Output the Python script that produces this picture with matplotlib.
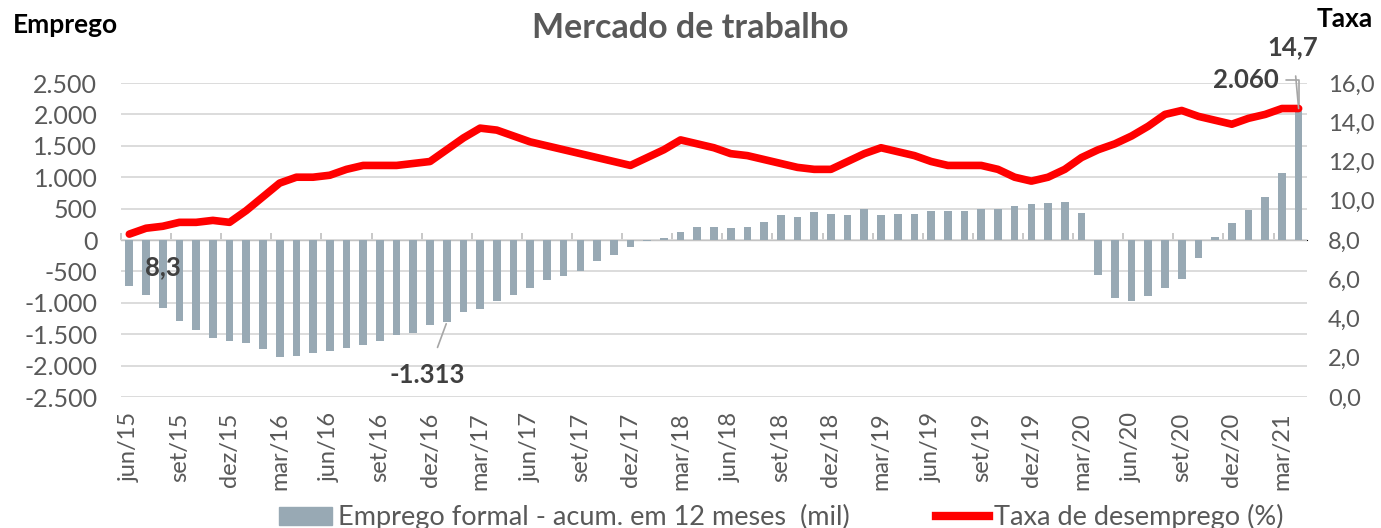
import numpy as np
import matplotlib.pyplot as plt
from matplotlib.patches import Patch
from matplotlib.lines import Line2D

plt.rcParams['font.family'] = ['Lato', 'DejaVu Sans']

# emprego formal acumulado em 12 meses (mil), jun/15 .. abr/21
emprego = [-727, -876, -1077, -1284, -1433, -1560, -1614, -1640, -1741, -1868,
           -1842, -1794, -1768, -1714, -1667, -1614, -1513, -1486, -1359,
           -1313, -1152, -1099, -977, -870, -770, -642, -568, -488, -340,
           -239, -117, -8, 32, 133, 212, 212, 186, 212,
           287, 393, 366, 441, 414, 393, 494, 393, 414, 414, 467, 467, 467,
           494, 494, 547, 568, 590,
           610, 425, -563, -918, -966, -892, -764, -616, -281, 48, 276, 478,
           679, 1062, 2060]

# taxa de desemprego (%)
taxa = [8.3, 8.6, 8.7, 8.9, 8.9, 9.0, 8.9, 9.5, 10.2, 10.9, 11.2, 11.2, 11.3,
        11.6, 11.8, 11.8, 11.8, 11.9, 12.0,
        12.6, 13.2, 13.7, 13.6, 13.3, 13.0, 12.8, 12.6, 12.4, 12.2, 12.0,
        11.8, 12.2, 12.6, 13.1, 12.9, 12.7, 12.4, 12.3,
        12.1, 11.9, 11.7, 11.6, 11.6, 12.0, 12.4, 12.7, 12.5, 12.3, 12.0,
        11.8, 11.8, 11.8, 11.6, 11.2, 11.0, 11.2,
        11.6, 12.2, 12.6, 12.9, 13.3, 13.8, 14.4, 14.6, 14.3, 14.1, 13.9,
        14.2, 14.4, 14.7, 14.7]

rotulos = ['jun/15', 'set/15', 'dez/15', 'mar/16', 'jun/16', 'set/16',
           'dez/16', 'mar/17', 'jun/17', 'set/17', 'dez/17', 'mar/18',
           'jun/18', 'set/18', 'dez/18', 'mar/19', 'jun/19', 'set/19',
           'dez/19', 'mar/20', 'jun/20', 'set/20', 'dez/20', 'mar/21']

cinza_txt = '#595959'
cor_barra = '#98A9B4'
vermelho = '#FF0000'

x = np.arange(len(emprego))

fig = plt.figure(figsize=(13.81, 5.28), dpi=100)
ax = fig.add_axes([0.0876, 0.2481, 0.8588, 0.5947])
ax2 = ax.twinx()

ax.bar(x, emprego, width=0.46, color=cor_barra, zorder=2)
ax.set_xlim(-0.5, len(x) - 0.5)
ax.set_ylim(-2500, 2500)
yt = np.arange(-2500, 2501, 500)
ax.set_yticks(yt)
ax.set_yticklabels([f'{v:,}'.replace(',', '.') for v in yt])
ax.grid(axis='y', color='#D9D9D9', linewidth=1.3, zorder=0)
ax.set_axisbelow(True)
for s in ax.spines.values():
    s.set_visible(False)
ax.tick_params(axis='y', length=0, labelsize=18, labelcolor=cinza_txt, pad=17)

ax.set_xticks(x[::3])
ax.set_xticklabels(rotulos, rotation=90)
ax.tick_params(axis='x', length=0, labelsize=17, labelcolor=cinza_txt, pad=11)

# eixo de categorias no zero
sec = ax.secondary_xaxis(0.5)
bordas = np.arange(-0.5, len(x), 3)
sec.set_xticks(bordas, labels=[''] * len(bordas))
sec.tick_params(length=5, color='#BFBFBF', width=1.2)
sec.spines['bottom'].set_color('#D9D9D9')
sec.spines['bottom'].set_linewidth(1.3)

ax2.plot(x, taxa, color=vermelho, linewidth=5.5, solid_capstyle='round', zorder=3)
ax2.set_ylim(0, 16)
yt2 = np.arange(0, 17, 2)
ax2.set_yticks(yt2)
ax2.set_yticklabels([f'{v:.1f}'.replace('.', ',') for v in yt2])
for s in ax2.spines.values():
    s.set_visible(False)
ax2.tick_params(axis='y', length=0, labelsize=17, labelcolor=cinza_txt, pad=15)

# rótulos de dados
rot = dict(fontsize=18.5, fontweight='bold', color='#404040', ha='center', va='center')
ax2.annotate('8,3', xy=(0, taxa[0]), xytext=(24, -24), textcoords='offset points', **rot)
ax.annotate(f'{emprego[19]:,}'.replace(',', '.'), xy=(19, emprego[19]), xytext=(-14, -38),
            textcoords='offset points',
            arrowprops=dict(arrowstyle='-', color='#A6A6A6', lw=1.2, shrinkA=10, shrinkB=1), **rot)
ax.annotate(f'{emprego[-1]:,}'.replace(',', '.'), xy=(x[-1], emprego[-1]), xytext=(-38, 22),
            textcoords='offset points',
            arrowprops=dict(arrowstyle='-', color='#A6A6A6', lw=1.2, shrinkA=3, shrinkB=0,
                            connectionstyle='angle,angleA=0,angleB=90,rad=0'), **rot)
ax2.annotate(f'{taxa[-1]:.1f}'.replace('.', ','), xy=(x[-1], taxa[-1]), xytext=(-4, 44),
             textcoords='offset points',
             arrowprops=dict(arrowstyle='-', color='#A6A6A6', lw=1.2, shrinkA=10, shrinkB=0), **rot)

fig.text(0.5, 0.928, 'Mercado de trabalho', fontsize=24.5, fontweight='bold',
         color=cinza_txt, ha='center', va='baseline')
fig.text(0.009, 0.9375, 'Emprego', fontsize=19, fontweight='bold', color='black',
         ha='left', va='baseline')
fig.text(0.994, 0.949, 'Taxa', fontsize=19, fontweight='bold', color='black',
         ha='right', va='baseline')

handles = [Patch(color=cor_barra), Line2D([0], [0], color=vermelho, linewidth=6)]
fig.legend(handles, ['Emprego formal - acum. em 12 meses  (mil)', 'Taxa de desemprego (%)'],
           loc='center', bbox_to_anchor=(0.566, 0.02), ncol=2, frameon=False,
           fontsize=19.5, labelcolor=cinza_txt, handlelength=1.95, handleheight=0.6,
           handletextpad=0.2, columnspacing=3.2, borderpad=0)

fig.savefig('out.png', dpi=100)
